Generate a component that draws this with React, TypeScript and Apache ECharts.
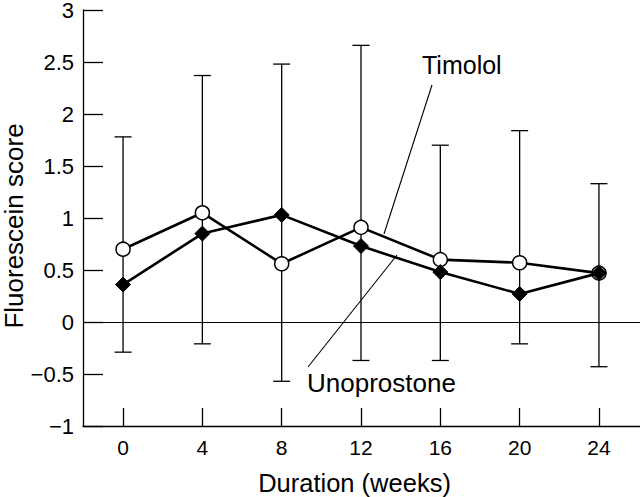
import React, { useEffect, useRef } from "react";
import * as echarts from "echarts";

const weeks = [0, 4, 8, 12, 16, 20, 24];
const timolol = [0.7, 1.05, 0.56, 0.91, 0.6, 0.57, 0.47];
const unoprostone = [0.36, 0.85, 1.03, 0.73, 0.48, 0.27, 0.47];
const errUpper = [1.78, 2.37, 2.48, 2.66, 1.7, 1.84, 1.33];
const errLower = [-0.29, -0.21, -0.57, -0.37, -0.37, -0.21, -0.43];
const yTicks = [-1, -0.5, 0, 0.5, 1, 1.5, 2, 2.5, 3];

const FONT = "'Liberation Sans', Arial, Helvetica, sans-serif";

export default function App() {
  const ref = useRef<HTMLDivElement>(null);
  useEffect(() => {
    if (!ref.current) return;
    const chart = echarts.init(ref.current, undefined, { renderer: "svg" });
    const errData = weeks.map((w, i) => [w, errLower[i], errUpper[i]]);
    chart.setOption({
      animation: false,
      backgroundColor: "#fff",
      textStyle: { fontFamily: FONT, color: "#000" },
      grid: { left: 83, right: 0, top: 10, bottom: 71, containLabel: false, outerBoundsMode: "none" },
      xAxis: {
        type: "value",
        min: -2.02,
        max: 26.07,
        name: "Duration (weeks)",
        nameLocation: "middle",
        nameGap: 44,
        nameTextStyle: { fontSize: 25.5, color: "#000", fontFamily: FONT, padding: [0, 14, 0, 0] },
        axisLine: { onZero: false, lineStyle: { color: "#000", width: 1.3 } },
        axisTick: { inside: true, length: 18, customValues: weeks, lineStyle: { color: "#000", width: 1.3 } },
        axisLabel: { customValues: weeks, fontSize: 21, color: "#000", margin: 11, fontFamily: FONT },
        splitLine: { show: false },
      },
      yAxis: {
        type: "value",
        min: -1,
        max: 3,
        interval: 0.5,
        axisLine: { show: true, onZero: false, lineStyle: { color: "#000", width: 1.3 } },
        axisTick: { show: true, inside: true, length: 20, customValues: yTicks, lineStyle: { color: "#000", width: 1.3 } },
        axisLabel: {
          fontSize: 22,
          lineHeight: 19,
          color: "#000",
          margin: 9,
          fontFamily: FONT,
          formatter: (v: number) => String(v).replace("-", "\u2212"),
        },
        splitLine: { show: false },
      },
      series: [
        {
          type: "custom",
          name: "error",
          z: 1,
          data: errData,
          encode: { x: 0, y: [1, 2] },
          renderItem: (params: any, api: any) => {
            const x = api.value(0);
            const lo = api.coord([x, api.value(1)]);
            const hi = api.coord([x, api.value(2)]);
            const cap = 8.5;
            const st = { stroke: "#000", lineWidth: 1.3 };
            return {
              type: "group",
              children: [
                { type: "line", shape: { x1: lo[0], y1: lo[1], x2: hi[0], y2: hi[1] }, style: st },
                { type: "line", shape: { x1: hi[0] - cap, y1: hi[1], x2: hi[0] + cap, y2: hi[1] }, style: st },
                { type: "line", shape: { x1: lo[0] - cap, y1: lo[1], x2: lo[0] + cap, y2: lo[1] }, style: st },
              ],
            };
          },
          markLine: {
            silent: true,
            symbol: "none",
            label: { show: false },
            lineStyle: { color: "#000", type: "solid", width: 1.2 },
            data: [{ yAxis: 0 }],
          },
        },
        {
          type: "line",
          name: "Timolol",
          z: 3,
          data: weeks.map((w, i) => [w, timolol[i]]),
          symbol: "circle",
          symbolSize: 14,
          lineStyle: { color: "#000", width: 2.6 },
          itemStyle: { color: "#fff", borderColor: "#000", borderWidth: 1.5 },
        },
        {
          type: "line",
          name: "Unoprostone",
          z: 4,
          data: weeks.map((w, i) => [w, unoprostone[i]]),
          symbol: "diamond",
          symbolSize: 15,
          lineStyle: { color: "#000", width: 2.6 },
          itemStyle: { color: "#000", borderColor: "#000", borderWidth: 1 },
        },
      ],
      graphic: [
        {
          type: "text",
          x: 14,
          y: 226,
          rotation: Math.PI / 2,
          style: { text: "Fluorescein score", font: `26px ${FONT}`, fill: "#000", align: "center", verticalAlign: "middle" },
        },
        { type: "text", left: 422, top: 52, style: { text: "Timolol", font: `25px ${FONT}`, fill: "#000" } },
        { type: "line", shape: { x1: 432, y1: 85, x2: 384, y2: 234 }, style: { stroke: "#000", lineWidth: 1.1 } },
        { type: "text", left: 307, top: 370, style: { text: "Unoprostone", font: `26px ${FONT}`, fill: "#000" } },
        { type: "line", shape: { x1: 397, y1: 255, x2: 308, y2: 367 }, style: { stroke: "#000", lineWidth: 1.1 } },
      ],
    });
    return () => chart.dispose();
  }, []);
  return (
    <div
      ref={ref}
      style={{ position: "fixed", left: 0, top: 0, width: 640, height: 497, background: "#fff" }}
    />
  );
}
